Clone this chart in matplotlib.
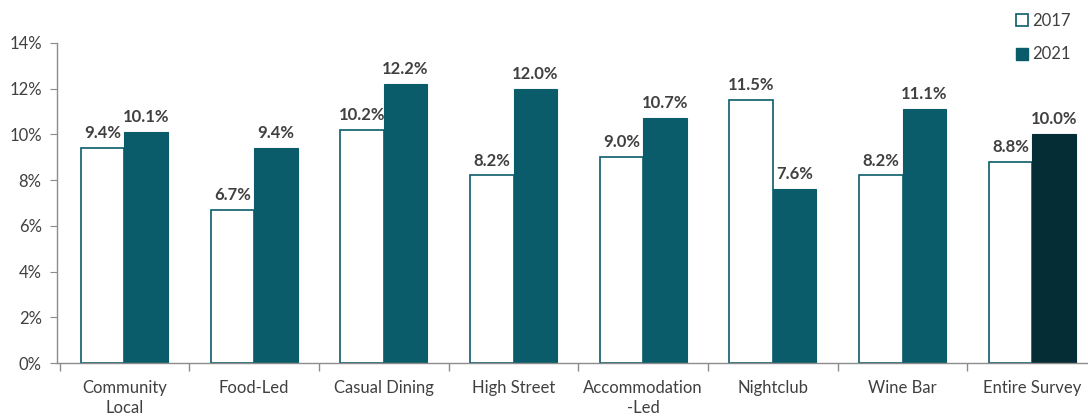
import matplotlib.pyplot as plt
from matplotlib.lines import Line2D
from matplotlib.ticker import FuncFormatter
import numpy as np

plt.rcParams['font.family'] = ['Lato', 'DejaVu Sans']

categories = ["Community\nLocal", "Food-Led", "Casual Dining", "High Street",
              "Accommodation\n-Led", "Nightclub", "Wine Bar", "Entire Survey"]
values_2017 = [9.4, 6.7, 10.2, 8.2, 9.0, 11.5, 8.2, 8.8]
values_2021 = [10.1, 9.4, 12.2, 12.0, 10.7, 7.6, 11.1, 10.0]

teal = "#0a5c6b"
dark = "#042d35"
grey = "#404040"
axis_grey = "#8c8c8c"

fig = plt.figure(figsize=(10.88, 4.16), dpi=100)
ax = fig.add_axes([0.0524, 0.1274, 0.956, 0.7696])

x = np.arange(len(categories))
w = 0.335
colors_2021 = [teal] * (len(categories) - 1) + [dark]

ax.bar(x - w / 2, values_2017, w, facecolor="white", edgecolor=teal, linewidth=1.2)
ax.bar(x + w / 2, values_2021, w, color=colors_2021, edgecolor=colors_2021, linewidth=0.8)

for xi, v in zip(x, values_2017):
    ax.text(xi - w / 2, v + 0.3, f"{v:.1f}%", ha="center", va="bottom",
            fontsize=12, fontweight="bold", color=grey)
for xi, v in zip(x, values_2021):
    ax.text(xi + w / 2, v + 0.3, f"{v:.1f}%", ha="center", va="bottom",
            fontsize=12, fontweight="bold", color=grey)

ax.set_ylim(0, 14)
ax.set_yticks(np.arange(0, 15, 2))
ax.yaxis.set_major_formatter(FuncFormatter(lambda v, _: f"{v:.0f}%"))
ax.set_xlim(-0.52, 7.5)
ax.set_xticks(x)
ax.set_xticklabels(categories, linespacing=1.35)
ax.set_xticks(np.arange(-0.5, 8, 1), minor=True)

ax.tick_params(axis="x", which="major", length=0, pad=12, labelsize=12, labelcolor=grey)
ax.tick_params(axis="x", which="minor", length=6, color=axis_grey, width=1)
ax.tick_params(axis="y", length=5, color=axis_grey, labelsize=12, labelcolor=grey, pad=6)

for side in ("top", "right"):
    ax.spines[side].set_visible(False)
for side in ("left", "bottom"):
    ax.spines[side].set_color(axis_grey)
    ax.spines[side].set_linewidth(1)

handles = [
    Line2D([], [], marker="s", linestyle="none", markersize=9,
           markerfacecolor="white", markeredgecolor=teal, markeredgewidth=1.2),
    Line2D([], [], marker="s", linestyle="none", markersize=9,
           markerfacecolor=teal, markeredgecolor=teal),
]
fig.legend(handles, ["2017", "2021"], loc="upper right",
           bbox_to_anchor=(0.998, 1.005), frameon=False, fontsize=12,
           handletextpad=0.1, labelspacing=1.05, labelcolor=grey, handlelength=1)

fig.savefig("out.png", dpi=100)
